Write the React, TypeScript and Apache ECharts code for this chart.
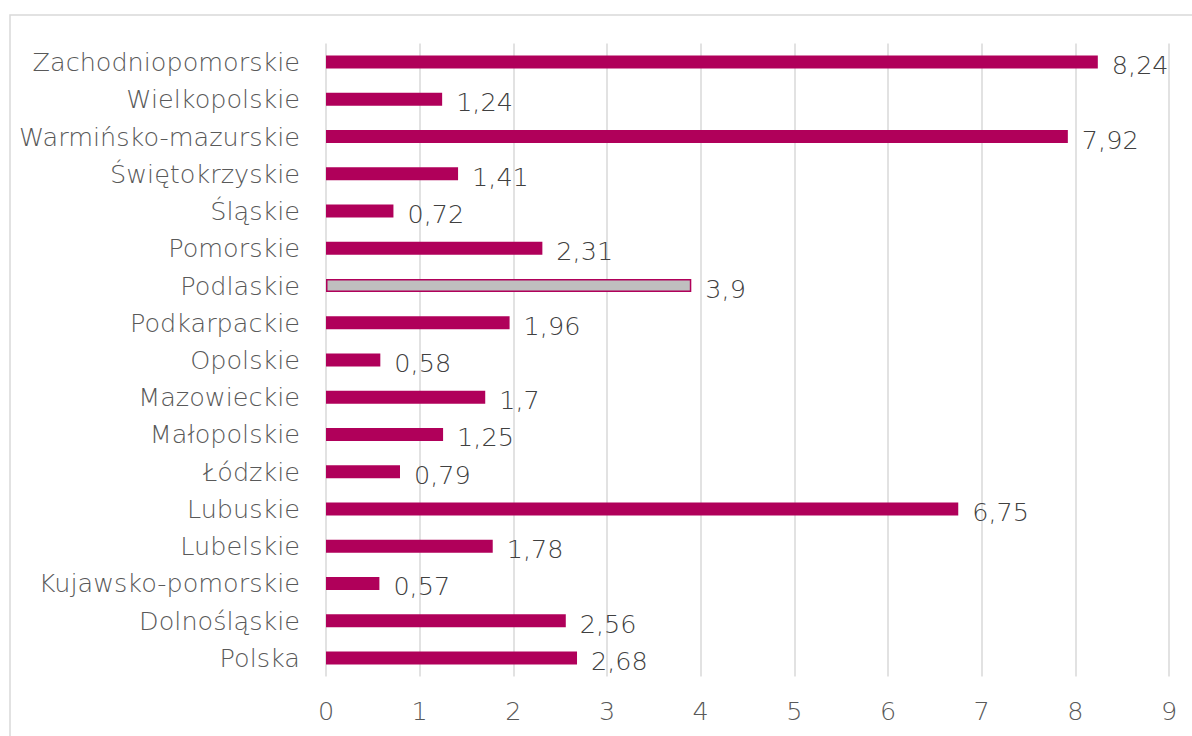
import React, { useEffect, useRef } from "react";
import * as echarts from "echarts";

const categories = [
  "Polska",
  "Dolnośląskie",
  "Kujawsko-pomorskie",
  "Lubelskie",
  "Lubuskie",
  "Łódzkie",
  "Małopolskie",
  "Mazowieckie",
  "Opolskie",
  "Podkarpackie",
  "Podlaskie",
  "Pomorskie",
  "Śląskie",
  "Świętokrzyskie",
  "Warmińsko-mazurskie",
  "Wielkopolskie",
  "Zachodniopomorskie",
];
const values = [2.68, 2.56, 0.57, 1.78, 6.75, 0.79, 1.25, 1.7, 0.58, 1.96, 3.9, 2.31, 0.72, 1.41, 7.92, 1.24, 8.24];
const highlighted = "Podlaskie";
const xTicks = { min: 0, max: 9, interval: 1 };

const MAIN = "#B0005A";
const HIGHLIGHT_FILL = "#BFBFBF";
const FONT = "'DejaVu Sans', sans-serif";

export default function App() {
  const ref = useRef<HTMLDivElement>(null);
  useEffect(() => {
    if (!ref.current) return;
    const chart = echarts.init(ref.current, null, { renderer: "svg" });
    chart.setOption({
      animation: false,
      backgroundColor: "#ffffff",
      graphic: [
        {
          type: "rect",
          shape: { x: 10, y: 15, width: 1250, height: 800 },
          style: { fill: "none", stroke: "#D9D9D9", lineWidth: 1.5 },
          silent: true,
          z: -10,
        },
      ],
      grid: { left: 326, right: 23, top: 43.5, bottom: 59.5, containLabel: false },
      xAxis: {
        type: "value",
        min: xTicks.min,
        max: xTicks.max,
        interval: xTicks.interval,
        axisLine: { show: false },
        axisTick: { show: false },
        splitLine: { show: true, lineStyle: { color: "#D9D9D9", width: 1.5 } },
        axisLabel: {
          color: "#595959",
          fontSize: 25.5,
          fontWeight: 300,
          fontFamily: FONT,
          margin: 21,
        },
      },
      yAxis: {
        type: "category",
        data: categories,
        axisLine: { show: false },
        axisTick: { show: false },
        axisLabel: {
          color: "#595959",
          fontSize: 25.5,
          fontWeight: 300,
          fontFamily: FONT,
          margin: 26,
        },
      },
      series: [
        {
          type: "bar",
          barWidth: 13,
          data: values.map((v, i) =>
            categories[i] === highlighted
              ? { value: v, itemStyle: { color: HIGHLIGHT_FILL, borderColor: MAIN, borderWidth: 1.5 } }
              : { value: v, itemStyle: { color: MAIN } }
          ),
          label: {
            show: true,
            position: "right",
            distance: 14,
            offset: [0, 3],
            color: "#404040",
            fontSize: 25.5,
            fontWeight: 300,
            fontFamily: FONT,
            formatter: (p: any) => String(p.value).replace(".", ","),
          },
        },
      ],
    });
    return () => chart.dispose();
  }, []);
  return (
    <div
      ref={ref}
      style={{ position: "fixed", left: 0, top: 0, width: 1192, height: 736 }}
    />
  );
}
